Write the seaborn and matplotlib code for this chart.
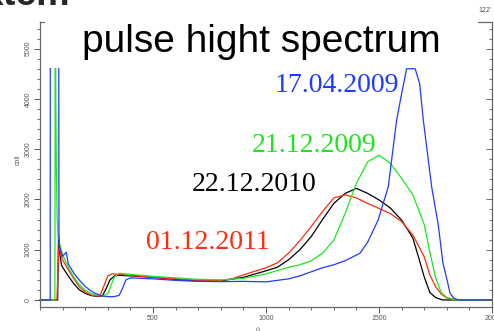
import matplotlib
matplotlib.use("Agg")
import matplotlib.pyplot as plt
from matplotlib.patches import Rectangle
import seaborn as sns
import pandas as pd

# spectra (channel, counts); values above the 4600 display cut are clipped
ch_2009a = [0, 45, 46, 82, 84, 90, 100, 116, 125, 150, 175, 200, 225, 250, 275, 300, 325, 350, 365, 380,
            400, 450, 500, 600, 700, 800, 900, 1000, 1050, 1100, 1150, 1200, 1250, 1300, 1350, 1416,
            1450, 1496, 1541, 1578, 1600, 1622, 1640, 1660, 1680, 1696, 1733, 1762, 1783, 1800, 1814,
            1830, 1850, 2000]
cnt_2009a = [0, 0, 9000, 9000, 1100, 1000, 870, 950, 720, 530, 390, 270, 180, 120, 80, 65, 65, 90, 230, 400,
             440, 430, 420, 390, 370, 365, 370, 360, 390, 420, 480, 560, 640, 700, 780, 930,
             1150, 1590, 2250, 3580, 4100, 4600, 4600, 4600, 4300, 3580, 2250, 1500, 730, 420, 140,
             40, 0, 0]

ch_2009b = [0, 66, 68, 70, 72, 76, 80, 90, 100, 125, 150, 175, 200, 225, 250, 275, 300, 315, 330, 350,
            400, 500, 600, 700, 800, 900, 1000, 1100, 1150, 1200, 1250, 1300, 1350, 1400, 1450, 1500,
            1550, 1600, 1650, 1700, 1725, 1750, 1775, 1800, 1840, 2000]
cnt_2009b = [0, 0, 9000, 4000, 2700, 1600, 1300, 1050, 900, 650, 450, 300, 200, 130, 95, 80, 120, 300, 460, 530,
             510, 470, 440, 410, 400, 430, 520, 650, 700, 780, 930, 1190, 1720, 2320, 2750, 2880,
             2720, 2420, 2090, 1500, 950, 450, 150, 50, 0, 0]

ch_2010 = [0, 78, 82, 88, 95, 100, 125, 150, 175, 200, 225, 250, 275, 290, 310, 330, 350, 400, 500, 600,
           700, 800, 900, 1000, 1050, 1100, 1150, 1200, 1250, 1300, 1350, 1400, 1450, 1500, 1550, 1600,
           1650, 1675, 1700, 1725, 1750, 1780, 2000]
cnt_2010 = [0, 0, 1300, 900, 700, 650, 480, 320, 200, 130, 90, 70, 75, 200, 400, 480, 490, 480, 450, 410,
            380, 380, 450, 580, 650, 800, 1000, 1260, 1600, 1920, 2120, 2220, 2120, 1990, 1830, 1590,
            1230, 850, 460, 150, 50, 0, 0]

ch_2011 = [0, 75, 80, 85, 90, 100, 125, 150, 175, 200, 225, 250, 265, 280, 300, 320, 350, 400, 500, 600,
           700, 800, 850, 900, 950, 1000, 1050, 1100, 1150, 1200, 1250, 1300, 1350, 1400, 1450, 1500,
           1550, 1600, 1650, 1700, 1725, 1750, 1775, 1800, 1840, 2000]
cnt_2011 = [0, 0, 700, 1150, 950, 800, 600, 420, 260, 160, 100, 75, 80, 250, 480, 520, 510, 490, 450, 420,
            390, 390, 420, 500, 570, 640, 740, 930, 1180, 1460, 1760, 2030, 2090, 2030, 1920, 1820,
            1720, 1560, 1290, 860, 500, 265, 120, 40, 0, 0]

dates = ["22.12.2010", "01.12.2011", "21.12.2009", "17.04.2009"]
colors = {"22.12.2010": "#000000", "01.12.2011": "#ff2b12",
          "21.12.2009": "#1ee61e", "17.04.2009": "#1f3bff"}

frames = []
for d, xs, ys in [("22.12.2010", ch_2010, cnt_2010), ("01.12.2011", ch_2011, cnt_2011),
                  ("21.12.2009", ch_2009b, cnt_2009b), ("17.04.2009", ch_2009a, cnt_2009a)]:
    frames.append(pd.DataFrame({"channel": xs, "counts": ys, "date": d}))
df = pd.concat(frames, ignore_index=True)

sns.set_theme(style="ticks")
plt.rcParams['font.family'] = ['Liberation Sans', 'DejaVu Sans']

fig = plt.figure(figsize=(4.94, 3.31), dpi=100)
ax = fig.add_axes([40 / 494, 1 - 307 / 331, 452 / 494, 285 / 331])

sns.lineplot(data=df, x="channel", y="counts", hue="date", hue_order=dates, palette=colors,
             estimator=None, sort=False, linewidth=0.9, legend=False, ax=ax)

# display cut at 4600 counts, like the original spectrum viewer
clip = Rectangle((-100, -1000), 3000, 5605, transform=ax.transData)
for ln in ax.lines:
    ln.set_clip_path(clip)

ax.set_xlim(0, 2000)
ax.set_ylim(-140, 5530)
ax.set_xticks([500, 1000, 1500, 2000])
ax.set_xticks(range(0, 2001, 100), minor=True)
ax.set_yticks(range(0, 5001, 1000))
ax.set_yticks(range(0, 5501, 200), minor=True)
ax.set_xlabel("")
ax.set_ylabel("")
for lab in ax.get_yticklabels():
    lab.set_rotation(90)
    lab.set_va("center")
ax.tick_params(axis="both", which="major", labelsize=5, colors="#555555", length=4, width=0.7, pad=2)
ax.tick_params(axis="both", which="minor", colors="#555555", length=2.5, width=0.6)
for s in ax.spines.values():
    s.set_color("#666666")
    s.set_linewidth(0.8)

# right-hand axis with inward ticks
ax2 = ax.twinx()
ax2.set_ylim(ax.get_ylim())
ax2.set_yticks(range(0, 5001, 1000))
ax2.set_yticks(range(0, 5501, 200), minor=True)
ax2.tick_params(axis="y", which="both", direction="in", labelright=False, colors="#555555", width=0.6)
ax2.tick_params(axis="y", which="major", length=4)
ax2.tick_params(axis="y", which="minor", length=2.5)
for s in ax2.spines.values():
    s.set_color("#666666")
    s.set_linewidth(0.8)

# white box of the title hides the top frame
fig.patches.append(Rectangle((45 / 494, 1 - 32 / 331), 433 / 494, 22 / 331,
                             transform=fig.transFigure, facecolor="white", edgecolor="none", zorder=5))
fig.text(261 / 494, 1 - 52 / 331, "pulse hight spectrum", ha="center", va="baseline",
         fontsize=28, color="black", zorder=6)

serif = ['Liberation Serif', 'DejaVu Serif']
fig.text(337 / 494, 1 - 92 / 331, "17.04.2009", color=colors["17.04.2009"], fontsize=20,
         family=serif, ha="center", va="baseline")
fig.text(314 / 494, 1 - 152 / 331, "21.12.2009", color=colors["21.12.2009"], fontsize=20,
         family=serif, ha="center", va="baseline")
fig.text(254 / 494, 1 - 191 / 331, "22.12.2010", color=colors["22.12.2010"], fontsize=20,
         family=serif, ha="center", va="baseline")
fig.text(208 / 494, 1 - 249 / 331, "01.12.2011", color=colors["01.12.2011"], fontsize=20,
         family=serif, ha="center", va="baseline")

fig.text(18 / 494, 1 - 160 / 331, "coll", rotation=90, fontsize=5, color="#555555", ha="center", va="center")
fig.text(485 / 494, 1 - 11 / 331, "122'", fontsize=5, color="#555555", ha="center", va="center")
fig.text(70 / 494, 1 - 5 / 331, "xtem", fontsize=27, fontweight="bold", ha="right", va="baseline")
fig.text(257 / 494, 1 - 327 / 331, "ü", fontsize=5, color="#555555", ha="center", va="top")

fig.savefig("out.png", dpi=100)
